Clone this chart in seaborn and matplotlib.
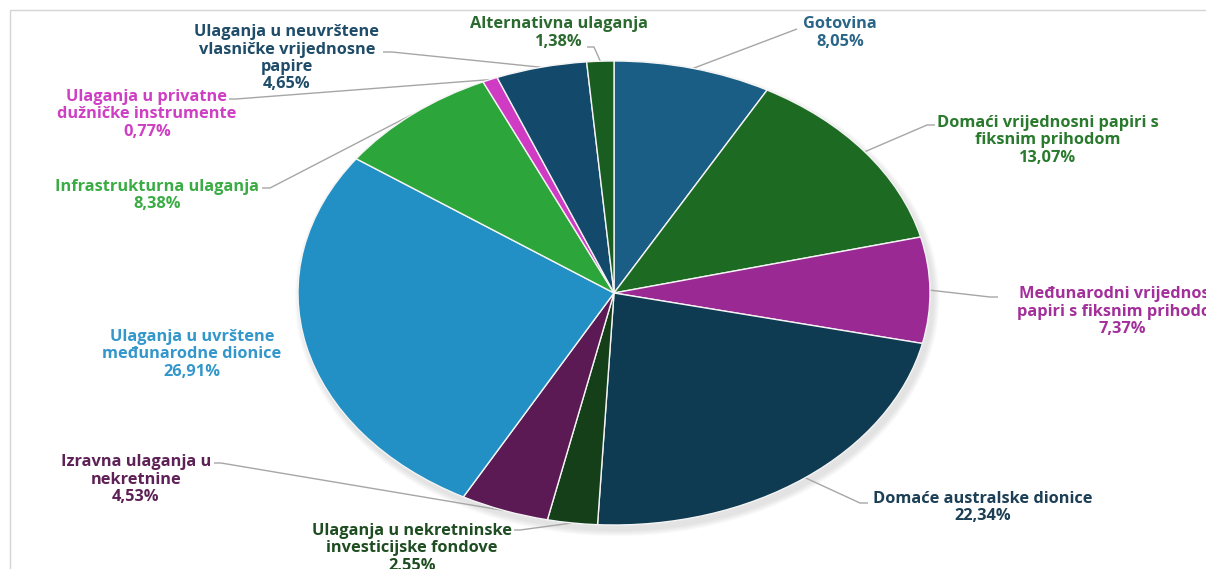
import numpy as np
import matplotlib.pyplot as plt
import seaborn as sns
from matplotlib.patches import Ellipse, Rectangle

# ---- data (clockwise from 12 o'clock) ----
categories = [
    "Gotovina",
    "Domaći vrijednosni papiri s\nfiksnim prihodom",
    "Međunarodni vrijednosni\npapiri s fiksnim prihodom",
    "Domaće australske dionice",
    "Ulaganja u nekretninske\ninvesticijske fondove",
    "Izravna ulaganja u\nnekretnine",
    "Ulaganja u uvrštene\nmeđunarodne dionice",
    "Infrastrukturna ulaganja",
    "Ulaganja u privatne\ndužničke instrumente",
    "Ulaganja u neuvrštene\nvlasničke vrijednosne\npapire",
    "Alternativna ulaganja",
]
shares = [8.05, 13.07, 7.37, 22.34, 2.55, 4.53, 26.91, 8.38, 0.77, 4.65, 1.38]
share_labels = ["8,05%", "13,07%", "7,37%", "22,34%", "2,55%", "4,53%",
                "26,91%", "8,38%", "0,77%", "4,65%", "1,38%"]

wedge_colors = ["#1b5e85", "#1d6b22", "#9b2993", "#0e3a52", "#143f19", "#5c1a54",
                "#2290c4", "#2ca63a", "#d03bc4", "#13496a", "#1a5d20"]
text_colors = ["#2a6687", "#2a7a2e", "#a3309a", "#1c3f55", "#1f4d22", "#5e2157",
               "#3497cc", "#3aac44", "#cf3fc4", "#1f4c69", "#2b6a2e"]

# ---- layout (pixels) ----
W, H = 1206, 569
CX, CY, RX, RY = 614, 293, 316, 232

# label block centre (x, y of first line) and leader elbow points
label_pos = [(840, 24), (1048, 123), (1122, 294), (983, 499), (412, 531), (136, 462),
             (192, 337), (157, 187), (147, 97), (287, 32), (559, 24)]
leader_pts = [
    [(797, 29)],
    [(927, 125), (935, 125)],
    [(990, 297), (998, 297)],
    [(860, 503), (868, 503)],
    [(520, 530), (514, 530)],
    [(221, 463), (214, 463)],
    None,
    [(270, 188), (262, 188)],
    [(236, 99), (229, 99)],
    [(392, 52), (383, 52)],
    [(594, 47), (587, 47)],
]
LINE_H = 17.5


def to_data(px, py):
    return (px - CX) / RX, (CY - py) / RY


sns.set_theme(style="white")
plt.rcParams["font.family"] = ["Open Sans", "DejaVu Sans"]

fig = plt.figure(figsize=(W / 100, H / 100), dpi=100)
fig.patch.set_facecolor("white")
ax = fig.add_axes([0, 0, 1, 1])

# soft shadow under the pie
for i in range(6):
    grow = 0.04 - i * 0.007
    ax.add_patch(Ellipse((0.01, -0.022), 2 + grow, 2 + grow * 1.3,
                         color="#707070", alpha=0.03, lw=0, zorder=0))

wedges, _ = ax.pie(shares, colors=wedge_colors, startangle=90, counterclock=False,
                   radius=1, wedgeprops=dict(edgecolor="#f4f4f4", linewidth=1.0))
for w in wedges:
    w.set_zorder(2)

ax.set_aspect("auto")
ax.set_xlim(-CX / RX, (W - CX) / RX)
ax.set_ylim(-(H - CY) / RY, CY / RY)
ax.axis("off")

# leader lines from wedge mid-angle to label
cum = np.cumsum([0] + shares[:-1])
for i, s in enumerate(shares):
    pts = leader_pts[i]
    if pts is None:
        continue
    theta = np.deg2rad(90 - 360 * (cum[i] + s / 2) / 100)
    xs = [np.cos(theta)] + [to_data(*p)[0] for p in pts]
    ys = [np.sin(theta)] + [to_data(*p)[1] for p in pts]
    ax.plot(xs, ys, color="#a6a6a6", lw=1.0, zorder=1, solid_capstyle="butt")

# labels
for i, (name, pct) in enumerate(zip(categories, share_labels)):
    lines = name.split("\n") + [pct]
    x0, y0 = label_pos[i]
    for j, t in enumerate(lines):
        tx, ty = to_data(x0, y0 + j * LINE_H)
        ax.text(tx, ty, t, ha="center", va="center", fontsize=11.8,
                fontweight="bold", color=text_colors[i], zorder=3)

# thin chart frame (top and left edges visible)
fig.add_artist(Rectangle((10 / W, -0.1), 1.2, (H - 10) / H + 0.1,
                         transform=fig.transFigure, fill=False,
                         edgecolor="#d4d4d4", lw=1.0))

fig.savefig("out.png", dpi=100, facecolor="white")
